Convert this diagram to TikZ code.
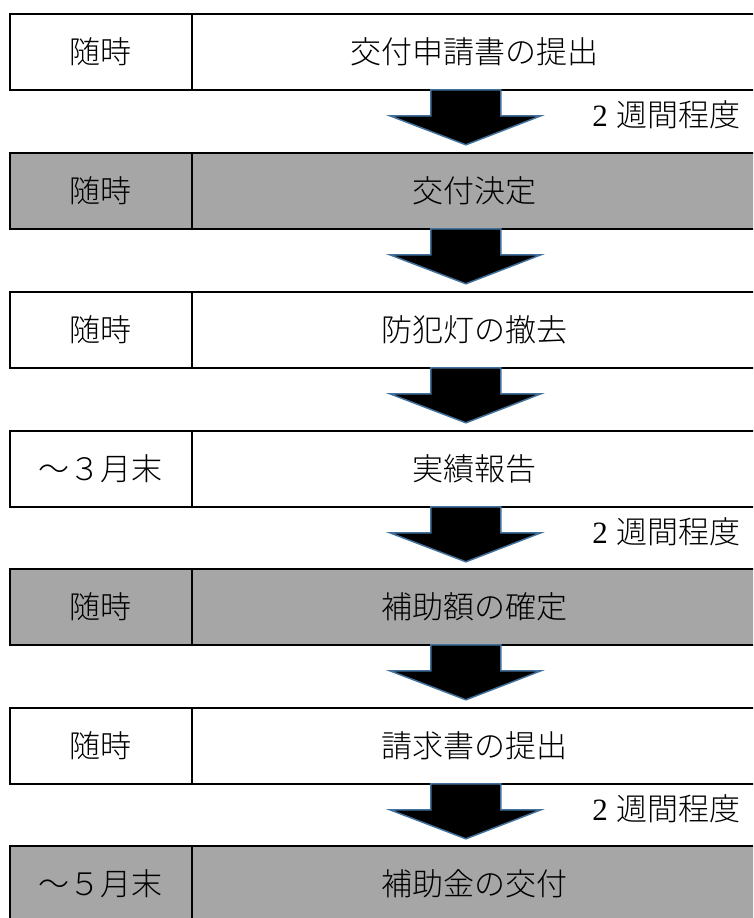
\documentclass[tikz,border=0pt]{standalone}
\usepackage{fontspec}
\setmainfont{Liberation Serif}
\newfontfamily\cjk{Noto Sans CJK JP Light}
\usetikzlibrary{calc}
\definecolor{cellgray}{HTML}{A6A6A6}
\definecolor{arrowedge}{HTML}{41719C}
\begin{document}
\begin{tikzpicture}[x=1pt,y=1pt,
  cell/.style={draw=black, line width=1.8pt, minimum height=76pt, anchor=north west,
    inner sep=0pt, font=\cjk\fontsize{31}{31}\selectfont},
  datecell/.style={cell, minimum width=182pt},
  taskcell/.style={cell, minimum width=566pt},
  shaded/.style={fill=cellgray},
  blockarr/.style={fill=black, draw=arrowedge, line width=1.5pt, line join=miter},
  note/.style={anchor=east, inner sep=0pt, font=\fontsize{31}{31}\selectfont}]
\clip (0,0) rectangle (753,-918);
% rows
\node[datecell] (d1) at (9,-13) {随時};
\node[taskcell] (t1) at (191,-13) {交付申請書の提出};
\node[datecell,shaded] (d2) at (9,-152) {随時};
\node[taskcell,shaded] (t2) at (191,-152) {交付決定};
\node[datecell] (d3) at (9,-291) {随時};
\node[taskcell] (t3) at (191,-291) {防犯灯の撤去};
\node[datecell] (d4) at (9,-430) {～３月末};
\node[taskcell] (t4) at (191,-430) {実績報告};
\node[datecell,shaded] (d5) at (9,-568) {随時};
\node[taskcell,shaded] (t5) at (191,-568) {補助額の確定};
\node[datecell] (d6) at (9,-707) {随時};
\node[taskcell] (t6) at (191,-707) {請求書の提出};
\node[datecell,shaded] (d7) at (9,-845) {～５月末};
\node[taskcell,shaded] (t7) at (191,-845) {補助金の交付};
% block arrows
\foreach \i in {1,...,6}{
  \coordinate (a\i) at ($(t\i.south)+(-9,0)$);
  \draw[blockarr] ($(a\i)+(-35,1)$) -- ($(a\i)+(35,1)$) -- ($(a\i)+(35,-25)$)
    -- ($(a\i)+(75,-25)$) -- ($(a\i)+(0,-54)$) -- ($(a\i)+(-76,-25)$)
    -- ($(a\i)+(-35,-25)$) -- cycle;
}
% durations
\node[note] (w1) at (741,-115) {2\hspace{9pt}{\cjk 週間程度}};
\node[note] (w4) at (741,-532) {2\hspace{9pt}{\cjk 週間程度}};
\node[note] (w6) at (741,-809) {2\hspace{9pt}{\cjk 週間程度}};
\end{tikzpicture}
\end{document}
